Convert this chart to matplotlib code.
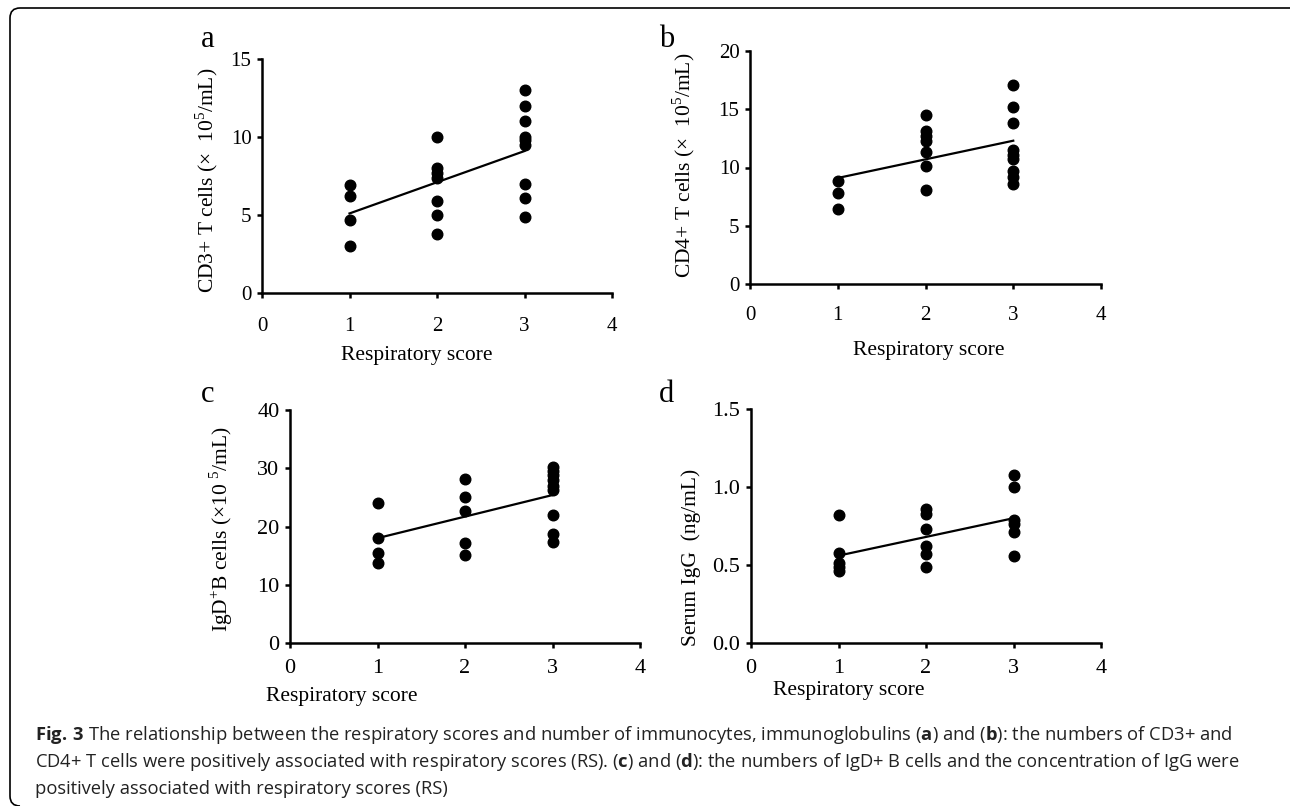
import matplotlib
matplotlib.use("Agg")
import matplotlib.pyplot as plt
from matplotlib.path import Path
from matplotlib.patches import PathPatch

plt.rcParams['font.family'] = ['Liberation Serif', 'DejaVu Serif']
plt.rcParams['mathtext.fontset'] = 'custom'
plt.rcParams['mathtext.rm'] = 'Liberation Serif'
plt.rcParams['mathtext.bf'] = 'Open Sans:bold'

W, H = 1290, 806

# data
a_x = [1, 1, 1, 1, 2, 2, 2, 2, 2, 2, 2, 3, 3, 3, 3, 3, 3, 3, 3, 3]
a_y = [6.9, 6.2, 4.7, 3.0, 10.0, 8.0, 7.7, 7.4, 5.9, 5.0, 3.8,
       13.0, 12.0, 11.0, 10.0, 9.8, 9.5, 7.0, 6.1, 4.9]
a_fit = [5.1, 9.1]

b_x = [1, 1, 1, 2, 2, 2, 2, 2, 2, 2, 3, 3, 3, 3, 3, 3, 3, 3, 3]
b_y = [8.8, 7.8, 6.4, 14.5, 13.1, 12.7, 12.3, 11.3, 10.1, 8.1,
       17.1, 15.2, 13.8, 11.5, 11.1, 10.7, 9.7, 9.2, 8.6]
b_fit = [9.1, 12.3]

c_x = [1, 1, 1, 1, 2, 2, 2, 2, 2, 3, 3, 3, 3, 3, 3, 3, 3, 3]
c_y = [24.1, 18.0, 15.5, 13.7, 28.2, 25.1, 22.7, 17.1, 15.1,
       30.2, 29.5, 28.8, 27.9, 27.0, 26.2, 21.9, 18.7, 17.4]
c_fit = [18.0, 25.4]

d_x = [1, 1, 1, 1, 1, 2, 2, 2, 2, 2, 2, 3, 3, 3, 3, 3, 3]
d_y = [0.82, 0.58, 0.51, 0.49, 0.46, 0.86, 0.83, 0.73, 0.62, 0.57, 0.49,
       1.08, 1.00, 0.79, 0.76, 0.71, 0.56]
d_fit = [0.56, 0.80]

fit_x = [1, 3]
x_ticks = [0, 1, 2, 3, 4]

fig = plt.figure(figsize=(W / 100, H / 100), dpi=100)


def fx(px):
    return px / W


def fy(py):
    return 1 - py / H


def panel(box, xs, ys, fit, yticks, ylabels, ylab, ylab_pos, xlab_pos,
          letter, letter_pos, fs, xpad):
    l, t, r, b = box
    ax = fig.add_axes([fx(l), fy(b), (r - l) / W, (b - t) / H])
    ax.scatter(xs, ys, s=58, color='black', zorder=3, clip_on=False)
    ax.plot(fit_x, fit, color='black', lw=1.6)
    ax.set_xlim(0, 4)
    ax.set_ylim(yticks[0], yticks[-1])
    ax.set_xticks(x_ticks)
    ax.set_yticks(yticks)
    ax.set_yticklabels(ylabels)
    for s in ['top', 'right']:
        ax.spines[s].set_visible(False)
    for s in ['left', 'bottom']:
        ax.spines[s].set_linewidth(1.8)
    ax.tick_params(direction='out', length=3.6, width=1.8, labelsize=fs)
    ax.tick_params(axis='x', pad=xpad)
    ax.tick_params(axis='y', pad=4)
    fig.text(fx(ylab_pos[0]), fy(ylab_pos[1]), ylab, rotation=90,
             ha='center', va='center', fontsize=15.5)
    fig.text(fx(xlab_pos[0]), fy(xlab_pos[1]), 'Respiratory score',
             ha='center', va='center', fontsize=15.5)
    fig.text(fx(letter_pos[0]), fy(letter_pos[1]), letter,
             ha='center', va='baseline', fontsize=22)
    return ax


panel((262, 59, 612, 293), a_x, a_y, a_fit, [0, 5, 10, 15],
      ['0', '5', '10', '15'],
      r'CD3+ T cells (×  10$^{\mathrm{5}}$/mL)', (207, 180), (417, 356),
      'a', (208, 47), 15, 14)
panel((750, 51, 1101, 284), b_x, b_y, b_fit, [0, 5, 10, 15, 20],
      ['0', '5', '10', '15', '20'],
      r'CD4+ T cells (×  10$^{\mathrm{5}}$/mL)', (684, 165), (929, 350),
      'b', (667, 47), 15, 12)
panel((290, 410, 640, 643), c_x, c_y, c_fit, [0, 10, 20, 30, 40],
      ['0', '10', '20', '30', '40'],
      r'IgD$^{\mathrm{+}}$B cells (×10 $^{\mathrm{5}}$/mL)', (221, 529),
      (342, 697), 'c', (208, 402), 16, 8)
panel((751, 409, 1101, 643), d_x, d_y, d_fit, [0, 0.5, 1.0, 1.5],
      ['0.0', '0.5', '1.0', '1.5'],
      'Serum IgG  (ng/mL)', (691, 557), (849, 690), 'd', (667, 402), 16, 8)

# caption
cap_lines = [
    r'$\mathbf{Fig.\,3}$ The relationship between the respiratory scores and number of immunocytes, '
    r'immunoglobulins ($\mathbf{a}$) and ($\mathbf{b}$): the numbers of CD3+ and',
    r'CD4+ T cells were positively associated with respiratory scores (RS). ($\mathbf{c}$) and '
    r'($\mathbf{d}$): the numbers of IgD+ B cells and the concentration of IgG were',
    'positively associated with respiratory scores (RS)',
]
cap_base = [740, 767, 794]
for line, yb in zip(cap_lines, cap_base):
    fig.text(fx(35), fy(yb), line, ha='left', va='baseline', fontsize=13.2,
             family=['Open Sans', 'DejaVu Sans'], color='#222222')

# frame with rounded left corners
verts = [(W, 8), (20, 8), (10, 8), (10, 18), (10, 796), (10, 806), (20, 806)]
codes = [Path.MOVETO, Path.LINETO, Path.CURVE3, Path.CURVE3, Path.LINETO,
         Path.CURVE3, Path.CURVE3]
frame = Path([(fx(x), fy(y)) for x, y in verts], codes)
fig.patches.append(PathPatch(frame, transform=fig.transFigure, fill=False,
                             lw=1.2, edgecolor='black'))

fig.savefig('out.png', dpi=100)
